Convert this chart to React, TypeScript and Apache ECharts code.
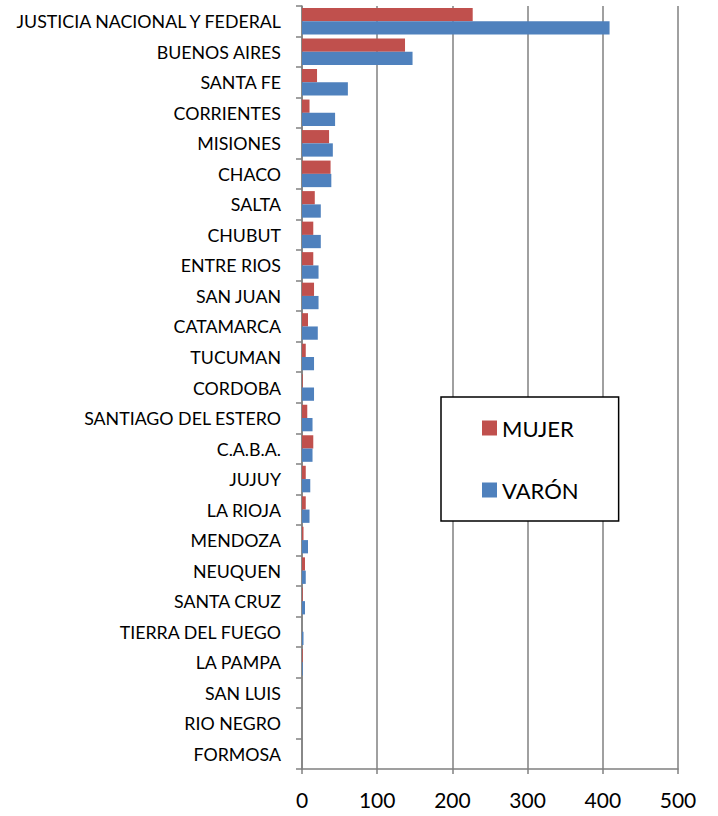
import React, { useEffect, useRef } from "react";
import * as echarts from "echarts";

const categories = [
  "JUSTICIA NACIONAL Y FEDERAL",
  "BUENOS AIRES",
  "SANTA FE",
  "CORRIENTES",
  "MISIONES",
  "CHACO",
  "SALTA",
  "CHUBUT",
  "ENTRE RIOS",
  "SAN JUAN",
  "CATAMARCA",
  "TUCUMAN",
  "CORDOBA",
  "SANTIAGO DEL ESTERO",
  "C.A.B.A.",
  "JUJUY",
  "LA RIOJA",
  "MENDOZA",
  "NEUQUEN",
  "SANTA CRUZ",
  "TIERRA DEL FUEGO",
  "LA PAMPA",
  "SAN LUIS",
  "RIO NEGRO",
  "FORMOSA",
];

const mujer = [227, 137, 20, 10, 36, 38, 17, 15, 15, 16, 8, 5, 1, 7, 15, 5, 5, 2, 4, 1, 0, 1, 0, 0, 0];
const varon = [409, 147, 61, 44, 41, 39, 25, 25, 22, 22, 21, 16, 16, 14, 14, 11, 10, 8, 5, 4, 2, 1, 0, 0, 0];

const xTicks = { min: 0, max: 500, interval: 100 };

const FONT = "Lato, 'Open Sans', sans-serif";

export default function App() {
  const ref = useRef<HTMLDivElement>(null);
  useEffect(() => {
    document.body.style.margin = "0";
    if (!ref.current) return;
    const chart = echarts.init(ref.current, null, { renderer: "svg" });
    chart.setOption({
      animation: false,
      textStyle: { fontFamily: FONT },
      grid: { left: 302, right: 40, top: 6, bottom: 47, containLabel: false },
      legend: {
        orient: "vertical",
        left: 441,
        top: 397,
        data: ["MUJER", "VARÓN"],
        icon: "rect",
        itemWidth: 15,
        itemHeight: 15,
        itemGap: 40,
        padding: [20, 40, 20, 41],
        borderColor: "#000",
        borderWidth: 1.5,
        backgroundColor: "#fff",
        textStyle: { fontSize: 22, lineHeight: 22, color: "#000", fontFamily: FONT },
      },
      xAxis: {
        type: "value",
        min: xTicks.min,
        max: xTicks.max,
        interval: xTicks.interval,
        axisLine: { show: true, lineStyle: { color: "#808080", width: 1.5 } },
        axisTick: { show: true, length: 5, lineStyle: { color: "#808080", width: 1.5 } },
        splitLine: { show: true, lineStyle: { color: "#808080", width: 1.5 } },
        axisLabel: { fontSize: 21, color: "#000", margin: 20, fontFamily: FONT },
      },
      yAxis: {
        type: "category",
        inverse: true,
        data: categories,
        axisLine: { show: true, lineStyle: { color: "#808080", width: 1.5 } },
        axisTick: { show: true, length: 6, lineStyle: { color: "#808080", width: 1.5 } },
        axisLabel: { fontSize: 17.8, color: "#000", margin: 21, fontFamily: FONT, interval: 0 },
      },
      series: [
        {
          name: "MUJER",
          type: "bar",
          data: mujer,
          barGap: "0%",
          barCategoryGap: "13%",
          itemStyle: { color: "#C0504D" },
        },
        {
          name: "VARÓN",
          type: "bar",
          data: varon,
          barGap: "0%",
          barCategoryGap: "13%",
          itemStyle: { color: "#4F81BD" },
        },
      ],
    });
    return () => chart.dispose();
  }, []);
  return <div ref={ref} style={{ width: 718, height: 816 }} />;
}
